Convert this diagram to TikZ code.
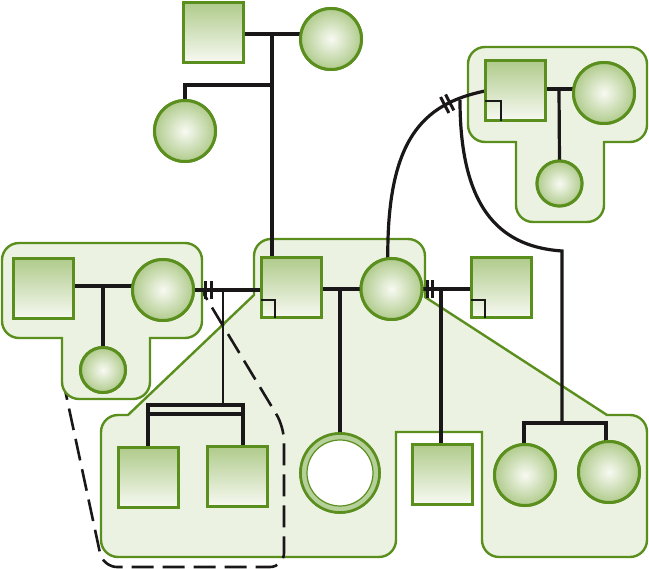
\documentclass[tikz,border=0pt]{standalone}
\usetikzlibrary{decorations.markings}
\definecolor{grn}{HTML}{5A8F1E}
\definecolor{nodedark}{HTML}{B0CB8C}
\definecolor{nodelight}{HTML}{F8FAF3}
\definecolor{grpfill}{HTML}{ECF2E2}
\definecolor{ringcol}{HTML}{B6D09A}
\definecolor{ink}{HTML}{1A1718}
\tikzset{
  sq/.style={rectangle, draw=grn, line width=3pt, minimum size=60pt, inner sep=0pt, outer sep=0pt, top color=nodedark, bottom color=nodelight},
  circ/.style={circle, draw=grn, line width=3pt, minimum size=#1, inner sep=0pt, outer sep=0pt, inner color=nodelight, outer color=nodedark},
  circ/.default=61pt,
  dcirc/.style={circle, draw=grn, line width=2.6pt, minimum size=79pt, inner sep=0pt, outer sep=0pt, fill=ringcol,
    path picture={\draw[grn, line width=1.2pt, fill=white] (path picture bounding box.center) circle[radius=33pt];}},
  grp/.style={draw=grn, line width=2.4pt, fill=grpfill},
  conn/.style={draw=ink, line width=3.2pt},
  thinconn/.style={draw=ink, line width=1.8pt},
  cornermark/.style={draw=ink, line width=1.5pt},
  dashline/.style={draw=ink, line width=2.6pt, dash pattern=on 22pt off 9pt, rounded corners=14pt},
  ticks/.style={postaction={decorate}, decoration={markings, mark=at position #1 with {\draw[ink, line width=3pt] (-2.8pt,-9pt) -- (-2.8pt,9pt) (2.8pt,-9pt) -- (2.8pt,9pt);}}},
}
\begin{document}
\begin{tikzpicture}[x=1pt,y=-1pt]
\useasboundingbox (0,0) rectangle (649,569);

% central group
\path[grp] (271,239) -- (408,239) arc[start angle=270,end angle=360,radius=17]
  -- (425,297) -- (607,415) -- (630,415) arc[start angle=270,end angle=360,radius=17]
  -- (647,540) arc[start angle=0,end angle=90,radius=17]
  -- (499,557) arc[start angle=90,end angle=180,radius=17]
  -- (482,432) -- (396,432) -- (396,540) arc[start angle=0,end angle=90,radius=17]
  -- (118,557) arc[start angle=90,end angle=180,radius=17]
  -- (101,432) arc[start angle=180,end angle=270,radius=17]
  -- (128,415) -- (254,295) -- (254,256) arc[start angle=180,end angle=270,radius=17]
  -- cycle;

% top right group
\path[grp] (485,47) -- (630,47) arc[start angle=270,end angle=360,radius=17]
  -- (647,125) arc[start angle=0,end angle=90,radius=17]
  -- (604,142) -- (604,205) arc[start angle=0,end angle=90,radius=17]
  -- (533,222) arc[start angle=90,end angle=180,radius=17]
  -- (516,142) -- (485,142) arc[start angle=90,end angle=180,radius=17]
  -- (468,64) arc[start angle=180,end angle=270,radius=17]
  -- cycle;

% dashed outline
\draw[dashline] (196,281) -- (284,427) -- (284,567) -- (103,567) -- (64,385);

% left group
\path[grp] (19,243) -- (185,243) arc[start angle=270,end angle=360,radius=17]
  -- (202,321) arc[start angle=0,end angle=90,radius=17]
  -- (150,338) -- (150,382) arc[start angle=0,end angle=90,radius=17]
  -- (79,399) arc[start angle=90,end angle=180,radius=17]
  -- (62,338) -- (19,338) arc[start angle=90,end angle=180,radius=17]
  -- (2,260) arc[start angle=180,end angle=270,radius=17]
  -- cycle;

% nodes (define anchors)
\node[sq] (tsq) at (213,33) {};
\node[circ] (tc) at (331,39) {};
\node[circ] (lc1) at (185,131) {};
\node[sq] (cs) at (291,288) {};
\node[circ] (cc) at (391.5,289) {};
\node[sq] (rsq) at (501,288) {};
\node[sq] (trs) at (515,91) {};
\node[circ] (trc) at (604,93) {};
\node[circ=45pt] (trk) at (559.5,183.5) {};
\node[sq] (ls) at (43,289) {};
\node[circ] (lc) at (163,290) {};
\node[circ=45pt] (lk) at (103,370) {};
\node[sq] (b1) at (148,478) {};
\node[sq] (b2) at (237,477) {};
\node[dcirc] (dc) at (340,473) {};
\node[sq] (bs) at (442,474.5) {};
\node[circ] (bc1) at (525,475) {};
\node[circ] (bc2) at (609,472) {};

% connectors
\coordinate (jt) at (272,34);
\coordinate (jb) at (272,85);
\draw[conn] (tsq.east |- jt) -- (tc.west |- jt);
\draw[conn] (jt) -- (jt |- cs.north);
\draw[conn] (jb) -| (lc1.north);

\coordinate (jl) at (103,286);
\draw[conn] (ls.east |- jl) -- (lc.west |- jl);
\draw[conn] (jl) -- (lk.north);

\draw[conn, ticks=15pt] (lc.east) -- (cs.west |- lc.east);
\coordinate (jtw) at (223,290);
\coordinate (tw) at (223,405);
\coordinate (tw1) at (148,405);
\coordinate (tw2) at (243,405);
\coordinate (tb1) at (148,414);
\coordinate (tb2) at (243,414);
\draw[thinconn] (jtw) -- (tw);
\draw[conn] (b1.north) -- (tw1) -- (tw2) -- (tw2 |- b2.north);
\draw[conn] (tb1) -- (tb2);

\draw[conn] (cs.east |- cc.west) -- (cc.west);
\coordinate (jc) at (340,289);
\draw[conn] (jc) -- (dc.north);

\draw[conn, ticks=8pt] (cc.east) -- (rsq.west |- cc.east);
\coordinate (jr) at (441,289);
\draw[conn] (jr) -- (jr |- bs.north);

\draw[conn, ticks=-40pt] (cc.97) .. controls (387,140) and (422,104) .. (trs.west);
\coordinate (jx) at (460,100);
\coordinate (jy) at (562,251);
\coordinate (sb1) at (524,423);
\coordinate (sb2) at (606,423);
\draw[conn] (jx) .. controls (460,215) and (505,247) .. (jy) -- (jy |- sb1);
\draw[conn] (sb1 |- bc1.north) -- (sb1) -- (sb2) -- (sb2 |- bc2.north);

\coordinate (jtr) at (559,89);
\draw[conn] (trs.east |- jtr) -- (trc.west |- jtr);
\draw[conn] (jtr) -- (trk.north);

% nodes again on top of connectors
\node[sq] at (tsq) {};
\node[circ] at (tc) {};
\node[circ] at (lc1) {};
\node[sq] at (cs) {};
\node[circ] at (cc) {};
\node[sq] at (rsq) {};
\node[sq] at (trs) {};
\node[circ] at (trc) {};
\node[circ=45pt] at (trk) {};
\node[sq] at (ls) {};
\node[circ] at (lc) {};
\node[circ=45pt] at (lk) {};
\node[sq] at (b1) {};
\node[sq] at (b2) {};
\node[dcirc] at (dc) {};
\node[sq] at (bs) {};
\node[circ] at (bc1) {};
\node[circ] at (bc2) {};

% corner marks
\draw[cornermark] ([yshift=18pt]cs.south west) -| ([xshift=14pt]cs.south west);
\draw[cornermark] ([yshift=18pt]rsq.south west) -| ([xshift=14pt]rsq.south west);
\draw[cornermark] ([yshift=20pt]trs.south west) -| ([xshift=16pt]trs.south west);
\end{tikzpicture}
\end{document}
